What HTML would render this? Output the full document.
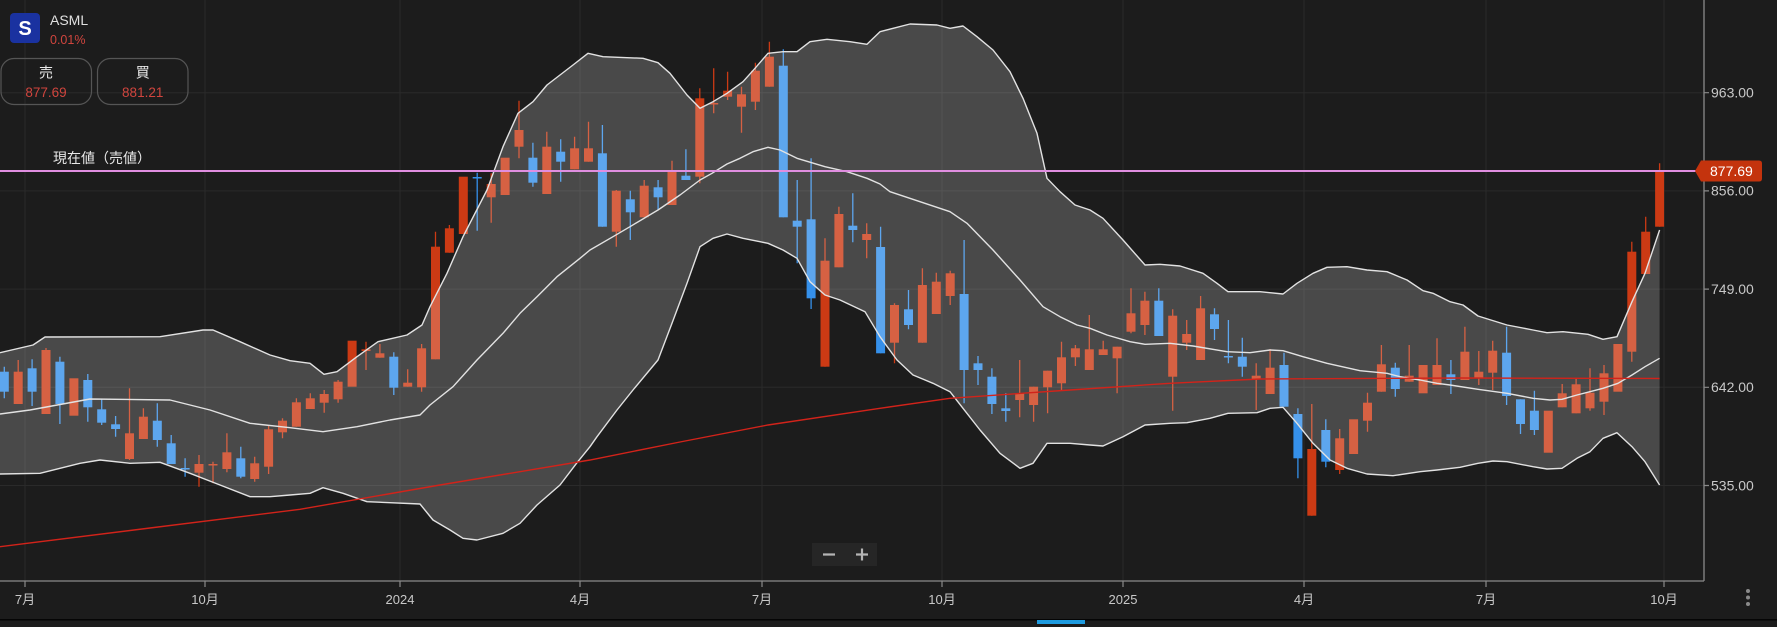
<!DOCTYPE html>
<html><head><meta charset="utf-8"><style>
html,body{margin:0;padding:0;background:#1c1c1c;width:1777px;height:627px;overflow:hidden}
svg{display:block}
text{font-family:"Liberation Sans","Noto Sans CJK JP",sans-serif}
</style></head><body>
<svg width="1777" height="627" viewBox="0 0 1777 627" xmlns="http://www.w3.org/2000/svg">
<rect width="1777" height="627" fill="#1c1c1c"/>
<!-- grid -->
<g stroke="#2a2a2a" stroke-width="1">
<path d="M0 92.7H1704M0 190.9H1704M0 289.1H1704M0 387.3H1704M0 485.5H1704"/>
<path d="M25 0V581M205 0V581M400 0V581M580 0V581M762 0V581M942 0V581M1123 0V581M1304 0V581M1486 0V581M1664 0V581"/>
</g>
<!-- red candles -->
<path stroke="#cc3a14" stroke-width="1.3" fill="none" d="M18.2 360V404M46 348V414M129.5 388.3V460M143.4 408.3V439M199 455V486.7M213 461.7V483.3M226.9 433.3V472.3M254.7 456.7V481.7M268.6 426V474M282.5 418.3V438.3M296.4 398.3V426.7M310.3 393.3V409M324.2 390V412.7M338.1 380V402.7M366 341.7V370M379.9 344V357.7M407.7 369.3V386.7M421.6 344V391.7M435.5 231.7V359.3M449.4 225V252.7M491.2 173.3V222.7M519 100.7V158.3M546.8 131.7V194M574.6 136.7V169.3M588.5 121.7V161.7M616.3 190V246.7M644.2 180V217.3M672 160.7V205M699.8 88.3V183.3M713.7 68.3V113.3M727.6 71.7V100M741.5 86.7V132.7M755.4 62.7V110M769.4 41.7V86.7M825 238.3V366.7M838.9 206.7V267.3M866.7 223.3V258.3M894.5 303.3V363.3M922.4 268.3V342.7M936.3 272.7V314M950.2 270.7V305M1019.7 360V417.3M1033.6 386.7V421.7M1047.6 370.7V413.3M1061.5 341.7V390M1075.4 345V366M1089.3 315V370M1103.2 340.7V355M1117.1 346.7V393.3M1131 288.3V333.3M1144.9 291.7V335M1172.7 309.3V410.7M1186.7 320V350M1200.6 296V360M1256.2 363.3V410M1270.1 349V394M1311.8 404V515.7M1339.7 429V474M1367.5 392.7V431.7M1381.4 345V391.7M1409.2 345V381.7M1437 338.3V385M1464.9 326.7V380M1478.8 351V385M1492.7 340.7V390M1562.2 384V407.3M1576.1 378.3V413.3M1590 368.3V410.7M1604 365V415M1631.8 241.7V361.7M1645.7 216.7V274M1659.6 163.3V226.7"/>
<g fill="#cc3a14">
<rect x="13.7" y="371.7" width="9" height="32.3"/><rect x="41.5" y="350" width="9" height="64"/><rect x="69.4" y="378.3" width="9" height="37.4"/><rect x="125" y="433.3" width="9" height="25.7"/><rect x="138.9" y="416.7" width="9" height="22.3"/><rect x="194.5" y="464" width="9" height="8.7"/><rect x="208.5" y="464" width="9" height="1.5"/><rect x="222.4" y="452.3" width="9" height="16.7"/><rect x="250.2" y="463.3" width="9" height="15.7"/><rect x="264.1" y="429.3" width="9" height="37.4"/><rect x="278" y="420.7" width="9" height="11.6"/><rect x="291.9" y="402.3" width="9" height="24.4"/><rect x="305.8" y="398.3" width="9" height="10.7"/><rect x="319.7" y="394" width="9" height="8.7"/><rect x="333.6" y="381.7" width="9" height="17.6"/><rect x="347.6" y="340.7" width="9" height="46"/><rect x="361.5" y="349.3" width="9" height="1.7"/><rect x="375.4" y="353.3" width="9" height="4.4"/><rect x="403.2" y="382.7" width="9" height="4"/><rect x="417.1" y="348.3" width="9" height="39"/><rect x="431" y="246.7" width="9" height="112.6"/><rect x="444.9" y="228.3" width="9" height="24.4"/><rect x="458.8" y="176.7" width="9" height="57.3"/><rect x="486.7" y="184" width="9" height="13.3"/><rect x="500.6" y="157.7" width="9" height="37.3"/><rect x="514.5" y="130" width="9" height="16.7"/><rect x="542.3" y="146.7" width="9" height="47.3"/><rect x="570.1" y="148.3" width="9" height="21"/><rect x="584" y="148.3" width="9" height="13.4"/><rect x="611.8" y="190.7" width="9" height="41"/><rect x="639.7" y="185.7" width="9" height="31.6"/><rect x="667.5" y="171.7" width="9" height="33.3"/><rect x="695.3" y="98.3" width="9" height="78.4"/><rect x="709.2" y="103" width="9" height="1.5"/><rect x="723.1" y="90.7" width="9" height="6"/><rect x="737" y="94.3" width="9" height="12.4"/><rect x="750.9" y="70.7" width="9" height="31"/><rect x="764.9" y="56.7" width="9" height="30"/><rect x="820.5" y="260.7" width="9" height="106"/><rect x="834.4" y="214" width="9" height="53.3"/><rect x="862.2" y="234" width="9" height="6"/><rect x="890" y="305" width="9" height="37.7"/><rect x="917.9" y="285" width="9" height="57.7"/><rect x="931.8" y="281.7" width="9" height="32.3"/><rect x="945.7" y="273.3" width="9" height="22.7"/><rect x="1015.2" y="393.3" width="9" height="6.7"/><rect x="1029.1" y="386.7" width="9" height="18.3"/><rect x="1043.1" y="370.7" width="9" height="16.6"/><rect x="1057" y="357.3" width="9" height="26"/><rect x="1070.9" y="348.3" width="9" height="9"/><rect x="1084.8" y="349.3" width="9" height="20.7"/><rect x="1098.7" y="349.3" width="9" height="5.7"/><rect x="1112.6" y="346.7" width="9" height="11.6"/><rect x="1126.5" y="313.3" width="9" height="18.4"/><rect x="1140.4" y="300.7" width="9" height="24.3"/><rect x="1168.2" y="315.7" width="9" height="61"/><rect x="1182.2" y="334" width="9" height="8.7"/><rect x="1196.1" y="308.3" width="9" height="51.7"/><rect x="1251.7" y="375.7" width="9" height="3.3"/><rect x="1265.6" y="367.7" width="9" height="26.3"/><rect x="1307.3" y="449" width="9" height="66.7"/><rect x="1335.2" y="438.3" width="9" height="31.7"/><rect x="1349.1" y="419.3" width="9" height="34.7"/><rect x="1363" y="402.7" width="9" height="18"/><rect x="1376.9" y="364.3" width="9" height="27.4"/><rect x="1404.7" y="375.7" width="9" height="6"/><rect x="1418.6" y="365" width="9" height="28.3"/><rect x="1432.5" y="365" width="9" height="20"/><rect x="1460.4" y="351.7" width="9" height="28.3"/><rect x="1474.3" y="371.7" width="9" height="6"/><rect x="1488.2" y="350.7" width="9" height="22"/><rect x="1543.8" y="410.7" width="9" height="42"/><rect x="1557.7" y="393.3" width="9" height="14"/><rect x="1571.6" y="384.3" width="9" height="29"/><rect x="1585.5" y="392.7" width="9" height="15.6"/><rect x="1599.5" y="373.3" width="9" height="28.4"/><rect x="1613.4" y="344" width="9" height="47.7"/><rect x="1627.3" y="251.7" width="9" height="100"/><rect x="1641.2" y="231.7" width="9" height="42.3"/><rect x="1655.1" y="171.7" width="9" height="55"/>
</g>
<!-- blue candles -->
<path stroke="#3590ea" stroke-width="1.3" fill="none" d="M4.3 366.7V398.3M32.1 359.3V406M59.9 356.7V424M87.8 374V421.7M101.7 399V425M115.6 416V436.7M157.3 403.3V446.7M171.2 435V464M185.1 458.3V476.7M240.8 446.7V478.3M393.8 352.3V395M477.2 172.7V230.7M532.9 142.7V186.7M560.7 139.3V181.7M602.4 125V226.7M630.3 190.7V240M658.1 180V210M685.9 149.3V180M783.3 49.3V217.3M797.2 180V263.3M811.1 158.3V309M852.8 193.3V242.3M880.6 226.7V353.3M908.5 290V329.3M964.1 240V403.3M978 356V385M991.9 368.3V414M1005.8 393.3V421.7M1158.8 288.3V336M1214.5 308.3V340M1228.4 320V363.3M1242.3 337.7V376.7M1284 352.7V406.7M1297.9 408.3V478.3M1325.8 419.3V467.3M1395.3 362.7V396.7M1450.9 360V394M1506.6 326.7V405M1520.5 399.3V434M1534.4 390.7V435"/>
<g fill="#3590ea">
<rect x="-0.2" y="371.7" width="9" height="20"/><rect x="27.6" y="368.3" width="9" height="23.4"/><rect x="55.4" y="361.7" width="9" height="42.3"/><rect x="83.3" y="380" width="9" height="27.3"/><rect x="97.2" y="409.3" width="9" height="13.4"/><rect x="111.1" y="424.3" width="9" height="4.7"/><rect x="152.8" y="420.7" width="9" height="19.3"/><rect x="166.7" y="443.3" width="9" height="20.7"/><rect x="180.6" y="468" width="9" height="1.5"/><rect x="236.3" y="458.3" width="9" height="18.4"/><rect x="389.3" y="356.7" width="9" height="31"/><rect x="472.7" y="177" width="9" height="1.5"/><rect x="528.4" y="157.7" width="9" height="25"/><rect x="556.2" y="151.7" width="9" height="10"/><rect x="597.9" y="153.3" width="9" height="73.4"/><rect x="625.8" y="199.3" width="9" height="13"/><rect x="653.6" y="187.3" width="9" height="10"/><rect x="681.4" y="175.7" width="9" height="4.3"/><rect x="778.8" y="65.7" width="9" height="151.6"/><rect x="792.7" y="220.7" width="9" height="6"/><rect x="806.6" y="219.3" width="9" height="79"/><rect x="848.3" y="225.7" width="9" height="4.3"/><rect x="876.1" y="247" width="9" height="106.3"/><rect x="904" y="309.3" width="9" height="15.7"/><rect x="959.6" y="294" width="9" height="76"/><rect x="973.5" y="363.3" width="9" height="6.7"/><rect x="987.4" y="376.7" width="9" height="27.3"/><rect x="1001.3" y="408.3" width="9" height="2.7"/><rect x="1154.3" y="300.7" width="9" height="35.3"/><rect x="1210" y="314.3" width="9" height="14.7"/><rect x="1223.9" y="356" width="9" height="1.5"/><rect x="1237.8" y="356.7" width="9" height="10"/><rect x="1279.5" y="365" width="9" height="41.7"/><rect x="1293.4" y="414" width="9" height="44.3"/><rect x="1321.3" y="430" width="9" height="31.7"/><rect x="1390.8" y="367.7" width="9" height="21.3"/><rect x="1446.4" y="374.3" width="9" height="5.7"/><rect x="1502.1" y="352.7" width="9" height="43.3"/><rect x="1516" y="399.3" width="9" height="24.7"/><rect x="1529.9" y="410.7" width="9" height="19.3"/>
</g>
<!-- bollinger fill (over candles) -->
<path fill="rgba(255,255,255,0.2)" stroke="none" d="M0 352.7L33 345L45 337L160 336.7L203 330L213 330L240 341.7L270 355L290 360.7L310 363.3L324 374.3L337 371.7L357 356.7L378 341.7L407 335L422 325L430 306.7L447 273.3L463 236.7L487 190L503 146.7L518 113.3L533 101.7L547 85L573 65L588 53.3L603 56.7L643 58.3L658 62.7L670 73.3L687 95L700 108.3L713 101.7L727 93.3L743 81.7L755 68.3L768 53.3L783 51.7L797 51.7L810 41.7L827 39.3L850 41.7L867 44.3L880 31.7L910 24L937 25L950 28.3L963 26L977 36.7L993 50L1010 71.7L1023 98.3L1037 133.3L1047 178.3L1060 191.7L1075 205L1090 210L1103 218.3L1123 240L1145 265L1160 264.3L1180 266L1203 273.3L1217 283.3L1228 291.7L1260 291.7L1283 294L1297 283.3L1313 273.3L1327 267.3L1347 266.7L1367 270L1387 271.7L1407 280L1423 290.7L1433 293.3L1450 301.7L1463 305L1478 316L1507 325L1533 330L1547 332.7L1563 331.7L1588 334.3L1603 339.3L1617 336.7L1632 301.7L1645 273.3L1659.6 230L1659.6 485L1645 461.7L1632 446.7L1617 432.7L1603 438.3L1590 451.7L1577 458.3L1562 468.3L1547 469L1533 466.7L1507 461.7L1493 461L1478 463.3L1460 467.3L1437 470L1420 471.7L1393 475.7L1367 474L1347 468.3L1330 460L1313 443.3L1297 423.3L1283 407.3L1270 408.3L1257 412.7L1228 413.3L1210 418.3L1187 422.7L1170 423.3L1145 425L1123 436.7L1103 446L1090 445L1070 443.3L1047 443.3L1033 463.3L1020 468.3L1000 453.3L980 430L963 408.3L950 391.7L933 383.3L913 375L897 360L880 336.7L865 311.7L840 300L825 295L810 281.7L797 258.3L783 250L768 243.3L760 241.7L743 238.3L727 234L713 238.3L700 246.7L687 283.3L672 323.3L658 360L633 390L617 410L597 436.7L590 446.7L577 462.7L560 485L537 505L520 523.3L503 533.3L477 540L463 538.3L450 530L433 520L420 504L390 502.7L367 501.7L343 493.3L323 487.7L310 493.3L290 495L270 496.7L250 496.7L220 485L190 473.3L160 462.3L130 463.3L100 460L80 463.3L40 473.3L0 474Z"/>
<g fill="none" stroke="#e2e2e2" stroke-width="1.4" stroke-linejoin="round">
<path d="M0 352.7L33 345L45 337L160 336.7L203 330L213 330L240 341.7L270 355L290 360.7L310 363.3L324 374.3L337 371.7L357 356.7L378 341.7L407 335L422 325L430 306.7L447 273.3L463 236.7L487 190L503 146.7L518 113.3L533 101.7L547 85L573 65L588 53.3L603 56.7L643 58.3L658 62.7L670 73.3L687 95L700 108.3L713 101.7L727 93.3L743 81.7L755 68.3L768 53.3L783 51.7L797 51.7L810 41.7L827 39.3L850 41.7L867 44.3L880 31.7L910 24L937 25L950 28.3L963 26L977 36.7L993 50L1010 71.7L1023 98.3L1037 133.3L1047 178.3L1060 191.7L1075 205L1090 210L1103 218.3L1123 240L1145 265L1160 264.3L1180 266L1203 273.3L1217 283.3L1228 291.7L1260 291.7L1283 294L1297 283.3L1313 273.3L1327 267.3L1347 266.7L1367 270L1387 271.7L1407 280L1423 290.7L1433 293.3L1450 301.7L1463 305L1478 316L1507 325L1533 330L1547 332.7L1563 331.7L1588 334.3L1603 339.3L1617 336.7L1632 301.7L1645 273.3L1659.6 230"/>
<path d="M0 414L30 410L90 399L170 400L210 410L250 423.3L290 427.7L323 431.7L357 426.7L390 420L420 415L430 405L453 386.7L477 360L503 333.3L520 313.3L537 296.7L557 276.7L580 258.3L590 250L613 236.7L630 226.7L658 210L680 195L700 180L712 173.3L727 164L740 158.3L753 151.7L768 147.3L780 150L797 158.3L825 166.7L847 171.7L867 178.3L880 184L890 191.7L920 201.7L950 211.7L967 223.3L993 250L1020 280L1043 306.7L1060 316.7L1077 325L1090 328.3L1107 335L1130 341.7L1145 344.3L1170 343.3L1193 346L1227 351.7L1250 352.7L1270 350L1283 350.7L1303 356.7L1327 363.3L1360 370.7L1387 373.3L1400 376.7L1420 380L1437 383.3L1450 385L1478 389.3L1507 393.3L1533 398.3L1550 400L1562 399.3L1577 395L1590 391.7L1603 388.3L1618 383.3L1632 375L1645 366.7L1659.6 358.3"/>
<path d="M0 474L40 473.3L80 463.3L100 460L130 463.3L160 462.3L190 473.3L220 485L250 496.7L270 496.7L290 495L310 493.3L323 487.7L343 493.3L367 501.7L390 502.7L420 504L433 520L450 530L463 538.3L477 540L503 533.3L520 523.3L537 505L560 485L577 462.7L590 446.7L597 436.7L617 410L633 390L658 360L672 323.3L687 283.3L700 246.7L713 238.3L727 234L743 238.3L760 241.7L768 243.3L783 250L797 258.3L810 281.7L825 295L840 300L865 311.7L880 336.7L897 360L913 375L933 383.3L950 391.7L963 408.3L980 430L1000 453.3L1020 468.3L1033 463.3L1047 443.3L1070 443.3L1090 445L1103 446L1123 436.7L1145 425L1170 423.3L1187 422.7L1210 418.3L1228 413.3L1257 412.7L1270 408.3L1283 407.3L1297 423.3L1313 443.3L1330 460L1347 468.3L1367 474L1393 475.7L1420 471.7L1437 470L1460 467.3L1478 463.3L1493 461L1507 461.7L1533 466.7L1547 469L1562 468.3L1577 458.3L1590 451.7L1603 438.3L1617 432.7L1632 446.7L1645 461.7L1659.6 485"/>
</g>
<!-- moving average -->
<path fill="none" stroke="#d2231a" stroke-width="1.4" d="M0 546.7L150 528L300 509.3L440 485L590 460L680 442L768 425L880 408.3L950 398.3L1070 390L1170 383.3L1260 379L1460 378L1659.6 378.5"/>
<!-- current price line -->
<rect x="0" y="170" width="1700" height="2" fill="#e08ee0"/>
<text x="53" y="163" font-size="14" fill="#e8e8e8">現在値（売値）</text>
<!-- axes -->
<path d="M1704 0V581M0 581H1704" stroke="#8a8a8a" stroke-width="1.3" fill="none"/>
<path stroke="#8a8a8a" stroke-width="1.2" d="M1704 92.7H1709M1704 190.9H1709M1704 289.1H1709M1704 387.3H1709M1704 485.5H1709M25 581V587M205 581V587M400 581V587M580 581V587M762 581V587M942 581V587M1123 581V587M1304 581V587M1486 581V587M1664 581V587"/>
<g font-size="14" fill="#c8c8c8">
<text x="1711" y="97.5">963.00</text>
<text x="1711" y="195.7">856.00</text>
<text x="1711" y="293.9">749.00</text>
<text x="1711" y="392.1">642.00</text>
<text x="1711" y="490.3">535.00</text>
</g>
<path d="M1695 171L1701 160.5H1759Q1762 160.5 1762 163.5V178.5Q1762 181.5 1759 181.5H1701Z" fill="#c4330d"/>
<text x="1710" y="176" font-size="14" fill="#ffffff">877.69</text>
<g font-size="13" fill="#c8c8c8" text-anchor="middle">
<text x="25" y="604">7月</text>
<text x="205" y="604">10月</text>
<text x="400" y="604">2024</text>
<text x="580" y="604">4月</text>
<text x="762" y="604">7月</text>
<text x="942" y="604">10月</text>
<text x="1123" y="604">2025</text>
<text x="1304" y="604">4月</text>
<text x="1486" y="604">7月</text>
<text x="1664" y="604">10月</text>
</g>
<g fill="#8a8a8a"><circle cx="1748" cy="591" r="2"/><circle cx="1748" cy="597.5" r="2"/><circle cx="1748" cy="604" r="2"/></g>
<!-- zoom buttons -->
<rect x="812" y="543" width="65" height="23" fill="#262626"/>
<path d="M823 554.5H835M856 554.5H868M862 548.5V560.5" stroke="#b4b4b4" stroke-width="2.2"/>
<!-- bottom bar -->
<rect x="0" y="619" width="1777" height="1.5" fill="#050505"/>
<rect x="1037" y="620" width="48" height="4" fill="#1e9be0"/>
<!-- header -->
<rect x="10" y="13" width="30" height="30" rx="4" fill="#1a32a0"/>
<text x="25" y="35" font-size="20" font-weight="bold" fill="#ffffff" text-anchor="middle">S</text>
<text x="50" y="25" font-size="14" fill="#e0e0e0">ASML</text>
<text x="50" y="44" font-size="12.5" fill="#d0453e">0.01%</text>
<rect x="1" y="58.5" width="90.5" height="46" rx="13" fill="none" stroke="#555" stroke-width="1.2"/>
<rect x="97.5" y="58.5" width="90.5" height="46" rx="13" fill="none" stroke="#555" stroke-width="1.2"/>
<text x="46" y="77.5" font-size="14" fill="#e8e8e8" text-anchor="middle">売</text>
<text x="46" y="97" font-size="13.5" fill="#d0453e" text-anchor="middle">877.69</text>
<text x="142.7" y="77.5" font-size="14" fill="#e8e8e8" text-anchor="middle">買</text>
<text x="142.7" y="97" font-size="13.5" fill="#d0453e" text-anchor="middle">881.21</text>
</svg>
</body></html>
